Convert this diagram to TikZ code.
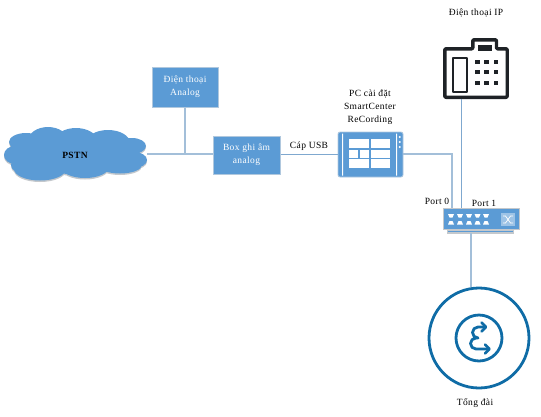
\documentclass[tikz,border=0pt]{standalone}
\usepackage{fontspec}
\setmainfont[LetterSpace=4]{Liberation Serif}
\definecolor{fillblue}{HTML}{5B9BD5}
\definecolor{edgeblue}{HTML}{A3BFD9}
\definecolor{boxedge}{HTML}{B0C8DE}
\definecolor{wireblue}{HTML}{7FA8CF}
\definecolor{ringblue}{HTML}{0F6CA6}
\definecolor{shadowgray}{HTML}{C4C8CC}
\definecolor{phoneblack}{HTML}{1E2226}
\newcommand{\puffs}{
  (26,142) ellipse[x radius=17,y radius=9]
  (48,141) ellipse[x radius=20,y radius=14]
  (76,142) ellipse[x radius=22,y radius=14]
  (108,143) ellipse[x radius=22,y radius=13]
  (132,146) ellipse[x radius=14,y radius=8]
  (134,160) ellipse[x radius=13,y radius=8]
  (120,165) ellipse[x radius=22,y radius=8.5]
  (85,167) ellipse[x radius=24,y radius=11]
  (40,169) ellipse[x radius=26,y radius=11.5]
  (15,155) ellipse[x radius=11,y radius=9]
  (25,165) ellipse[x radius=14,y radius=9]
  (75,154) ellipse[x radius=62,y radius=20]
}
\tikzset{
  bluebox/.style={draw=boxedge,line width=1pt,fill=fillblue,text=white,align=center,inner sep=0pt,font=\fontsize{9.5}{13}\selectfont},
  wire/.style={draw=edgeblue,line width=1.2pt},
  thinwire/.style={draw=wireblue,line width=0.9pt},
  lbl/.style={inner sep=0pt,align=center,font=\fontsize{9.5}{13}\selectfont,text=black},
  ring/.style={draw=ringblue,line width=2.8pt,fill=none},
  phoneline/.style={draw=phoneblack,line join=round},
  win/.style={fill=white,draw=none},
  squiggle/.style={draw=ringblue,line width=2.8pt,line cap=round,line join=round}
}
\begin{document}
\begin{tikzpicture}[x=1pt,y=-1pt]
\useasboundingbox (0,0) rectangle (541,416);
% cloud
\fill[shadowgray] [yshift=-1.5pt] \puffs;
\fill[fillblue] \puffs;
\node[inner sep=0pt,font=\fontsize{9.5}{11}\selectfont\bfseries] (pstn) at (75,155) {PSTN};
\coordinate (cloudedge) at (147,154);
% boxes
\node[bluebox,minimum width=66pt,minimum height=40pt] (analog) at (185,87) {Điện thoại\\Analog};
\node[bluebox,minimum width=67pt,minimum height=38pt] (box) at (246.5,155) {Box ghi âm\\analog};
% tablet
\node[fill=fillblue,draw=boxedge,line width=.8pt,rounded corners=2pt,minimum width=65pt,minimum height=45pt,inner sep=0pt] (pc) at (370.5,154.5) {};
\fill[white] (342,133.5) rectangle (343,175.5) (396,133.5) rectangle (397,175.5);
\foreach \a/\b/\c/\d in {349/139/368.5/148, 370.5/139/390/148, 349/149.5/358/157.5, 360/149.5/368.5/157.5, 370.5/149.5/390/157.5, 349/159/368.5/168, 370.5/159/390/168}
  \fill[win] (\a,\b) rectangle (\c,\d);
\foreach \y in {137,142,147}
  \fill[white] (399.7,\y) circle (1.1pt);
\node[lbl] (pclabel) at (370,107.5) {PC cài đặt\\SmartCenter\\ReCording};
% switch
\fill[shadowgray] (447,229) rectangle (514,233.5);
\fill[fillblue] (448,230.5) rectangle (513,231.5);
\node[fill=fillblue,draw=shadowgray,line width=.6pt,minimum width=76pt,minimum height=21pt,inner sep=0pt] (sw) at (481,218.5) {};
\foreach \x in {448,457,466,474.5,483}{
  \fill[white] (\x,214) -- (\x+6,214) -- (\x+4.5,217.5) -- (\x+1.5,217.5) -- cycle;
  \fill[white] (\x+1.5,221) -- (\x+4.5,221) -- (\x+6,224.5) -- (\x,224.5) -- cycle;
}
\fill[white!40!fillblue] (501,213) rectangle (515,226);
\draw[white,line width=.7pt] (503,216) -- (505.5,216) -- (510.5,223) -- (513,223) (503,223) -- (505.5,223) -- (510.5,216) -- (513,216);
% phone
\coordinate (phonebot) at (461,99);
\draw[phoneline,line width=3.4pt,fill=white,rounded corners=1pt] (444.8,48.8) -- (472.8,48.8) -- (472.8,39.8) -- (496.5,39.8) -- (496.5,48.8) -- (507.2,48.8) -- (507.2,97.3) -- (444.8,97.3) -- cycle;
\fill[phoneblack] (478,45) rectangle (492,51);
\draw[phoneline,line width=1.9pt] (453,58) rectangle (467,92);
\foreach \x in {477.5,486.5,496}\foreach \y in {62,72,83}
  \fill[phoneblack] (\x-2.2,\y-2.2) rectangle (\x+2.2,\y+2.2);
\node[lbl] (iplabel) at (476,12.5) {Điện thoại IP};
% PBX
\node[circle,ring,minimum size=100pt,inner sep=0pt] (pbx) at (479,338) {};
\node[circle,ring,minimum size=46pt,inner sep=0pt] (pbxin) at (479,338) {};
\draw[squiggle] (485,327) -- (478,327) arc[start angle=90,end angle=270,radius=5.5pt] -- (476,338) arc[start angle=90,end angle=270,radius=5.5pt] -- (489,349);
\draw[squiggle] (481.5,322.5) -- (486,327) -- (481.5,331.5);
\draw[squiggle] (485,344.5) -- (489.5,349) -- (485,353.5);
\node[lbl] (pbxlabel) at (475,403) {Tổng đài};
% connectors
\coordinate (tee) at (185,154);
\draw[wire] (cloudedge) -- (box.west |- 0,154);
\draw[wire] (analog.south) -- (tee);
\draw[thinwire] (box.east |- 0,154) -- (pc.west |- 0,154);
\node[lbl] (usb) at (309,146) {Cáp USB};
\coordinate (bend) at (452,154);
\draw[wire] (pc.east |- 0,154) -- (bend) -- (bend |- sw.north);
\draw[thinwire] (phonebot) -- (phonebot |- sw.north);
\draw[wire,line width=1.6pt] (471,233) -- (pbx.north -| 471,0);
\node[lbl] (p0) at (437,201) {Port 0};
\node[lbl] (p1) at (484,203) {Port 1};
\end{tikzpicture}
\end{document}
